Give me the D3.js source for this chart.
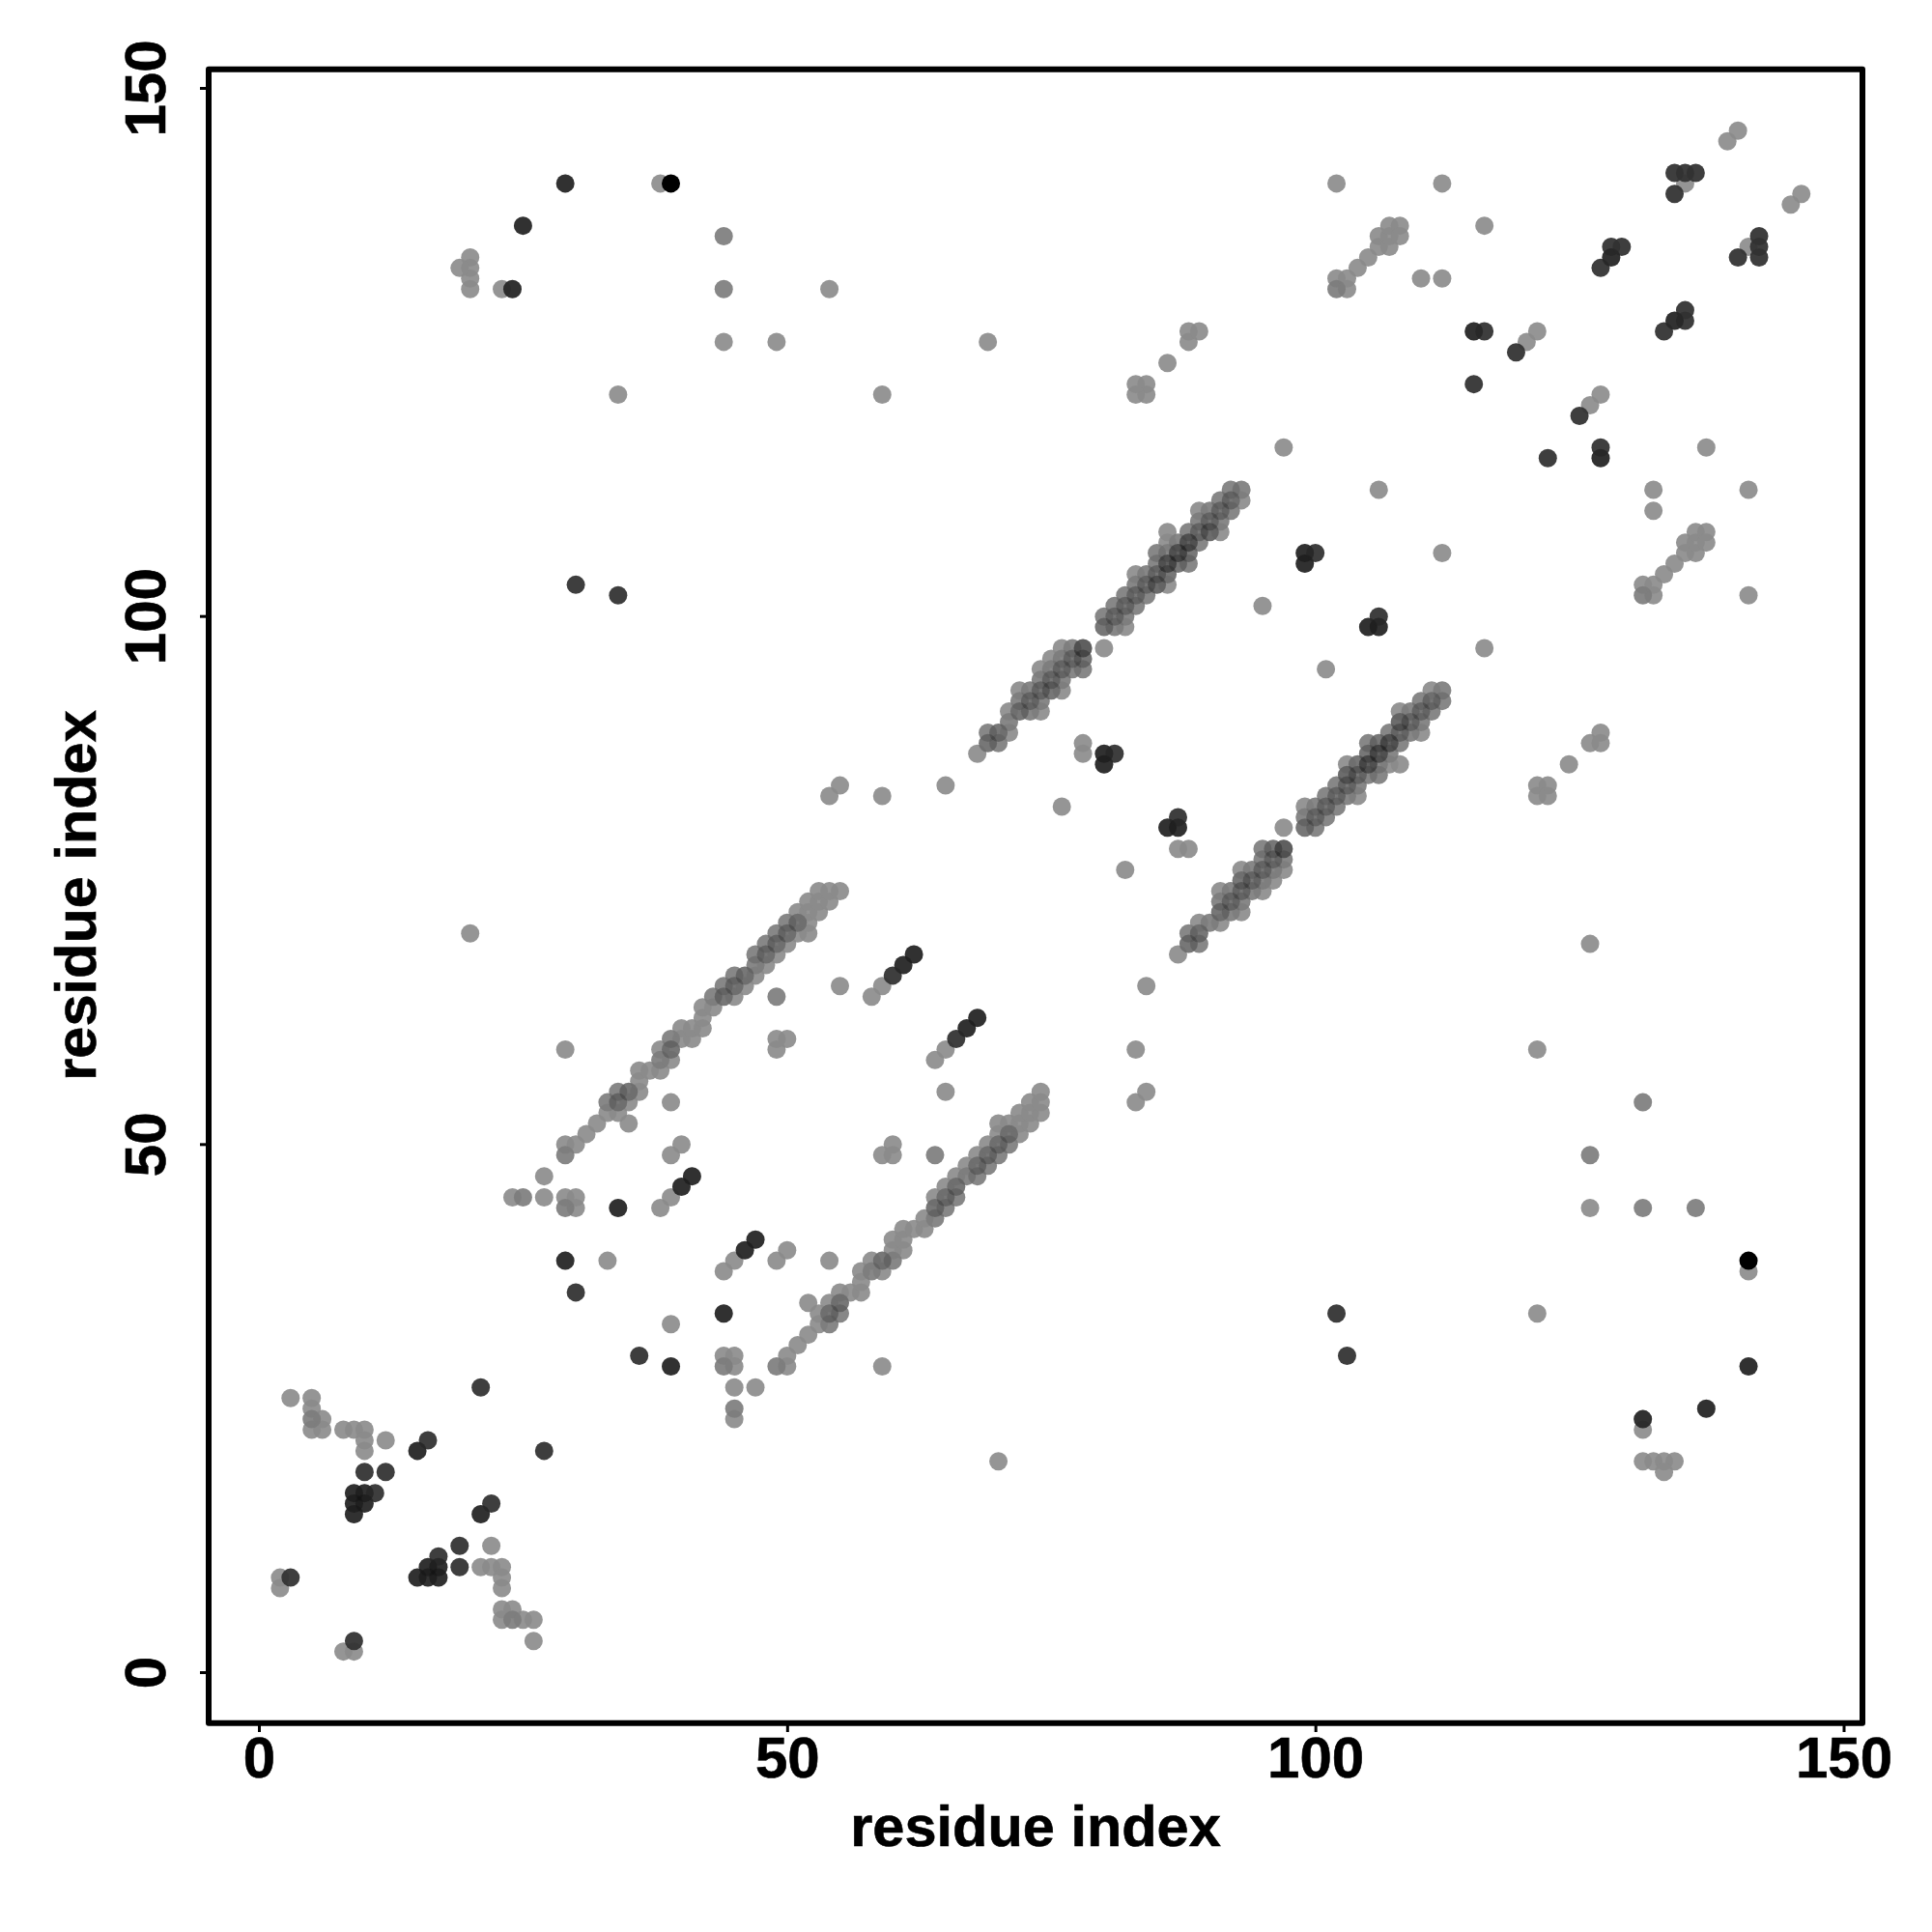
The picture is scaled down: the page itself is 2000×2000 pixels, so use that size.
<!DOCTYPE html>
<html><head><meta charset="utf-8">
<style>html,body{margin:0;padding:0;background:#fff}svg{display:block}text{font-family:"Liberation Sans",Arial,sans-serif;font-weight:bold;fill:#000;stroke:#000;stroke-width:0.6}</style>
<script src="https://cdn.jsdelivr.net/npm/d3@7"></script></head><body><svg id="c" width="2000" height="2000"></svg>
<script>
const axisTicks=[0,50,100,150];
const axisLabel="residue index";
const lightContacts=[
[3,26],[5,26],[5,25],[5,24],[6,24],[5,23],[6,23],[8,23],[9,23],[10,23],[10,22],[10,21],[12,22],[2,9],[2,8],[8,2],[9,2],[22,12],[21,10],[22,10],[23,10],[23,9],[23,8],[23,6],[24,6],[23,5],[24,5],[25,5],[26,5],[26,3],
[70,20],[20,70],[45,24],[45,25],[24,45],[25,45],[45,27],[47,27],[27,45],[27,47],[44,30],[45,30],[44,29],[45,29],[29,44],[30,44],[29,45],[30,45],[59,29],[29,59],[39,33],[33,39],[44,38],[45,39],[38,44],[39,45],[49,39],[50,40],[39,49],[40,50],[54,39],[39,54],[35,52],[52,35],[65,55],[55,65],[64,58],[65,59],[58,64],[59,65],[59,49],[60,50],[60,49],[49,59],[50,60],[49,60],[64,49],[49,64],
[29,49],[29,50],[30,50],[31,51],[32,52],[33,53],[33,54],[34,53],[34,54],[34,55],[35,54],[35,55],[36,55],[36,56],[36,57],[37,57],[38,57],[38,58],[38,59],[39,58],[39,59],[39,60],[40,60],[40,61],[41,60],[41,61],[42,61],[42,62],[42,63],[43,63],[43,64],[44,64],[44,65],[45,64],[45,65],[45,66],[46,65],[46,66],[47,66],[47,67],[47,68],[48,67],[48,68],[48,69],[49,68],[49,69],[49,70],[50,69],[50,70],[50,71],[51,70],[51,71],[51,72],[52,70],[52,71],[52,72],[52,73],[53,72],[53,73],[53,74],[54,73],[54,74],[55,74],
[49,29],[50,29],[50,30],[51,31],[52,32],[53,33],[54,33],[53,34],[54,34],[55,34],[54,35],[55,35],[55,36],[56,36],[57,36],[57,37],[57,38],[58,38],[59,38],[58,39],[59,39],[60,39],[60,40],[61,40],[60,41],[61,41],[61,42],[62,42],[63,42],[63,43],[64,43],[64,44],[65,44],[64,45],[65,45],[66,45],[65,46],[66,46],[66,47],[67,47],[68,47],[67,48],[68,48],[69,48],[68,49],[69,49],[70,49],[69,50],[70,50],[71,50],[70,51],[71,51],[72,51],[70,52],[71,52],[72,52],[73,52],[72,53],[73,53],[74,53],[73,54],[74,54],[74,55],
[68,87],[69,88],[69,89],[70,88],[70,89],[71,89],[71,90],[71,91],[72,91],[72,92],[72,93],[73,91],[73,92],[73,93],[74,91],[74,92],[74,93],[74,94],[74,95],[75,93],[75,94],[75,95],[75,96],[76,93],[76,94],[76,95],[76,96],[76,97],[77,95],[77,96],[77,97],[78,95],[78,96],[78,97],[80,97],
[80,99],[80,100],[81,99],[81,100],[81,101],[82,99],[82,100],[82,101],[82,102],[83,101],[83,102],[83,103],[83,104],[84,102],[84,103],[84,104],[85,103],[85,104],[85,105],[85,106],[86,103],[86,104],[86,105],[86,106],[86,107],[86,108],[87,105],[87,106],[87,107],[88,105],[88,106],[88,107],[88,108],[89,107],[89,108],[89,109],[89,110],[90,108],[90,109],[90,110],[91,108],[91,109],[91,110],[91,111],[92,110],[92,111],[92,112],[93,111],[93,112],
[87,68],[88,69],[89,69],[88,70],[89,70],[89,71],[90,71],[91,71],[91,72],[92,72],[93,72],[91,73],[92,73],[93,73],[91,74],[92,74],[93,74],[94,74],[95,74],[93,75],[94,75],[95,75],[96,75],[93,76],[94,76],[95,76],[96,76],[97,76],[95,77],[96,77],[97,77],[95,78],[96,78],[97,78],[97,80],
[99,80],[100,80],[99,81],[100,81],[101,81],[99,82],[100,82],[101,82],[102,82],[101,83],[102,83],[103,83],[104,83],[102,84],[103,84],[104,84],[103,85],[104,85],[105,85],[106,85],[103,86],[104,86],[105,86],[106,86],[107,86],[108,86],[105,87],[106,87],[107,87],[105,88],[106,88],[107,88],[108,88],[107,89],[108,89],[109,89],[110,89],[108,90],[109,90],[110,90],[108,91],[109,91],[110,91],[111,91],[110,92],[111,92],[112,92],[111,93],[112,93],
[97,116],[116,97],[95,101],[101,95],[65,84],[84,65],[76,82],[82,76],[78,88],[78,87],[88,78],[87,78],[54,83],[55,84],[83,54],[84,55],[59,83],[83,59],
[102,141],[141,102],[112,141],[141,112],[116,137],[137,116],[110,132],[132,110],[112,132],[132,112],[102,132],[102,131],[103,132],[103,131],[104,133],[105,134],[106,135],[106,136],[107,135],[107,136],[107,137],[108,137],[108,136],
[132,102],[131,102],[132,103],[131,103],[133,104],[134,105],[135,106],[135,107],[136,106],[136,107],[136,108],[137,108],[137,107],
[121,127],[120,126],[127,121],[126,120],[106,112],[112,106],[135,141],[141,135],[139,145],[140,146],[145,139],[146,140],
[124,86],[86,124],[121,84],[122,84],[121,83],[122,83],[84,121],[84,122],[83,121],[83,122],[126,88],[127,89],[127,88],[88,126],[88,127],[89,127],[126,69],[69,126],[121,59],[59,121],[131,54],[54,131],[126,49],[49,126],[126,44],[44,126],[131,44],[44,131],[136,44],[44,136],[121,34],[34,121],[141,38],[38,141],[131,23],[23,131],[131,20],[132,20],[133,20],[134,20],[133,19],[20,131],[20,132],[20,133],[20,134],[19,133]
];
const darkContacts=[
[29,39],[39,29],[30,36],[36,30],[21,27],[27,21],[16,22],[22,16],[15,21],[21,15],[10,19],[12,19],[19,10],[19,12],[9,17],[10,17],[11,17],[9,16],[10,16],[9,15],[17,11],[16,10],[17,10],[15,9],[16,9],[17,9],[3,9],[9,3],
[44,34],[34,44],[46,40],[47,41],[40,46],[41,47],[60,66],[61,67],[62,68],[66,60],[67,61],[68,62],
[80,87],[80,86],[81,87],[87,80],[86,80],[87,81],[99,106],[99,105],[100,106],[105,99],[106,99],[106,100],
[102,34],[34,102],[103,30],[30,103],[141,29],[29,141],[137,25],[25,137],[131,24],[24,131],
[119,125],[125,119],[115,127],[116,127],[127,115],[127,116],[115,122],[122,115],[127,133],[128,134],[128,135],[129,135],[133,127],[134,128],[135,128],[135,129],[134,142],[135,142],[136,142],[134,140],[142,134],[142,135],[142,136],[140,134]
];
const blackContacts=[[39,141],[141,39]];
const slightlyRepeatedContacts=[
[44,29],[29,44],[102,131],[131,102],[5,24],[24,5],[45,25],[25,45],[44,131],[44,136],[131,44],[136,44],[29,49],[49,29],[93,112],[112,93],[131,54],[126,49],[64,49],[49,64],
[33,54],[34,55],[38,58],[39,60],[43,64],[44,65],[45,66],[47,67],[47,68],[48,69],[49,70],[50,71],
[54,33],[55,34],[58,38],[60,39],[64,43],[65,44],[66,45],[67,47],[68,47],[69,48],[70,49],[71,50],
[69,89],[70,88],[71,90],[72,92],[73,91],[73,93],[74,92],[74,94],[75,95],[76,94],[76,96],[77,95],[77,97],[78,95],
[80,100],[81,99],[81,101],[82,100],[82,102],[83,101],[83,103],[84,102],[84,104],[85,103],[85,105],[85,106],[86,106],[87,107],[88,105],[88,108],[89,107],[89,109],[90,108],[90,110],[91,109],[91,111],[92,110],[92,112],
[89,69],[88,70],[90,71],[92,72],[91,73],[93,73],[92,74],[94,74],[95,75],[94,76],[96,76],[95,77],[97,77],[95,78],
[100,80],[99,81],[101,81],[100,82],[102,82],[101,83],[103,83],[102,84],[104,84],[103,85],[105,85],[106,85],[106,86],[107,87],[105,88],[108,88],[107,89],[109,89],[108,90],[110,90],[109,91],[111,91],[110,92],[112,92]
];
const repeatedContacts=[
[34,54],[35,55],[39,59],[44,64],[45,65],[46,66],[48,68],[49,69],[50,70],[51,71],
[54,34],[55,35],[59,39],[64,44],[65,45],[66,46],[68,48],[69,49],[70,50],[71,51],
[69,88],[70,89],[72,91],[73,92],[74,93],[75,94],[76,95],[77,96],[78,97],[78,97],[78,96],[75,93],
[80,99],[81,100],[82,101],[83,102],[84,103],[85,104],[86,105],[87,106],[88,107],[89,108],[90,109],[91,110],[92,111],[85,103],[86,104],[86,105],[87,106],[88,106],[87,105],[88,107],[90,108],
[88,69],[89,70],[91,72],[92,73],[93,74],[94,75],[95,76],[96,77],[97,78],[97,78],[96,78],[93,75],
[99,80],[100,81],[101,82],[102,83],[103,84],[104,85],[105,86],[106,87],[107,88],[108,89],[109,90],[110,91],[111,92],[103,85],[104,86],[105,86],[106,87],[106,88],[105,87],[107,88],[108,90],
[29,141],[141,29],[25,137],[137,25],[24,131],[131,24],[29,39],[39,29],[44,34],[34,44],[41,47],[47,41],[40,46],[46,40],[9,15],[9,16],[9,17],[10,16],[10,17],[15,9],[16,9],[17,9],[16,10],[17,10],[15,21],[21,15],[80,86],[80,87],[86,80],[87,80],[99,105],[99,106],[105,99],[106,99],[128,134],[134,128],[127,115],[115,127],[61,67],[62,68],[67,61],[68,62]
];

const svg=d3.select("#c");
const x=d3.scaleLinear().domain([0,150]).range([268,1908.5]);
const y=d3.scaleLinear().domain([0,150]).range([1731.5,91.5]);
const R=9.5;
const draw=(data,fill,alpha)=>svg.append("g").selectAll("circle").data(data).join("circle")
 .attr("cx",d=>x(d[0])).attr("cy",d=>y(d[1])).attr("r",R).attr("fill",fill).attr("fill-opacity",alpha);
draw(lightContacts,"#8b8b8b",0.91);
draw(darkContacts,"#323232",0.94);
draw(slightlyRepeatedContacts,"#000",0.09);
draw(repeatedContacts,"#000",0.2);
draw(blackContacts,"#000",1);
svg.append("rect").attr("x",216).attr("y",71.7).attr("width",1712).attr("height",1712).attr("fill","none").attr("stroke","#000").attr("stroke-width",6).attr("stroke-linejoin","round");
const ax=svg.append("g").attr("transform","translate(0,1784)").call(d3.axisBottom(x).tickValues(axisTicks).tickSize(9).tickPadding(8));
ax.select(".domain").remove();
ax.selectAll("line").attr("stroke-width",3);
ax.selectAll("text").attr("font-size",60).attr("y",0).attr("dy",0).attr("transform","translate(0,56)");
const ay=svg.append("g").attr("transform","translate(216,0)").call(d3.axisLeft(y).tickValues(axisTicks).tickSize(9));
ay.select(".domain").remove();
ay.selectAll("line").attr("stroke-width",3);
ay.selectAll("text").attr("font-size",60).attr("text-anchor","middle").attr("x",0).attr("dy",0).attr("y",0)
 .attr("transform",d=>`translate(-45,${y(d)}) rotate(-90)`);
ay.selectAll(".tick").attr("transform","translate(0,0)");
ay.selectAll(".tick line").attr("transform",d=>`translate(0,${y(d)})`);
svg.append("text").attr("x",1072).attr("y",1911).attr("text-anchor","middle").attr("font-size",59.5).text(axisLabel);
svg.append("text").attr("transform","translate(99,927) rotate(-90)").attr("text-anchor","middle").attr("font-size",59.5).text(axisLabel);
</script></body></html>
